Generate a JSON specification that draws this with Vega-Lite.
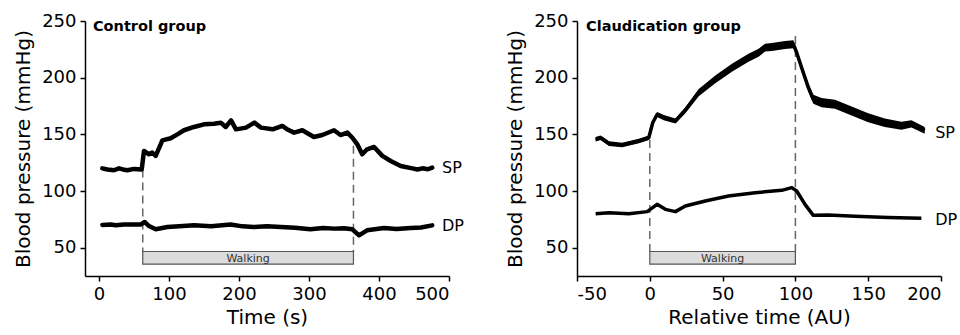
{
  "$schema": "https://vega.github.io/schema/vega-lite/v6.json",
  "padding": {"left": 13, "top": 12, "right": 3, "bottom": 5},
  "spacing": 41,
  "config": {
    "view": {"stroke": null},
    "font": "DejaVu Sans",
    "axis": {"grid": false, "domainColor": "black", "tickColor": "black", "domainWidth": 1.5, "tickWidth": 1.5, "tickSize": 5, "labelFontSize": 18, "titleFontSize": 20, "labelColor": "black", "titleColor": "black", "titleFontWeight": "normal", "labelPadding": 4, "labelExpr": "'' + datum.value"}
  },
  "datasets": {
    "control": [
      {"s":"SP","t":4.8,"v":120},{"s":"SP","t":12,"v":119},{"s":"SP","t":21.4,"v":118.3},{"s":"SP","t":28.6,"v":120},{"s":"SP","t":34,"v":119},{"s":"SP","t":40.5,"v":118.3},{"s":"SP","t":50,"v":119.5},{"s":"SP","t":61,"v":119},
      {"s":"SP","t":64.3,"v":135.3},{"s":"SP","t":71.4,"v":132.4},{"s":"SP","t":76,"v":134},{"s":"SP","t":81,"v":130.9},{"s":"SP","t":90.5,"v":144.7},{"s":"SP","t":102.4,"v":146.5},{"s":"SP","t":112,"v":150},{"s":"SP","t":121.4,"v":153.6},{"s":"SP","t":135.7,"v":156.5},{"s":"SP","t":150,"v":158.8},{"s":"SP","t":164.3,"v":159.4},{"s":"SP","t":174,"v":160.3},{"s":"SP","t":181,"v":156.5},{"s":"SP","t":188.6,"v":162.3},{"s":"SP","t":195.7,"v":154.4},{"s":"SP","t":210,"v":155.9},{"s":"SP","t":221.9,"v":160.3},{"s":"SP","t":231.4,"v":155.9},{"s":"SP","t":248,"v":154.4},{"s":"SP","t":261.9,"v":157.4},{"s":"SP","t":270,"v":154},{"s":"SP","t":278.6,"v":151.5},{"s":"SP","t":290.5,"v":153.6},{"s":"SP","t":307,"v":147.6},{"s":"SP","t":319,"v":149.4},{"s":"SP","t":335.7,"v":153.6},{"s":"SP","t":345,"v":149.4},{"s":"SP","t":354.8,"v":151.5},{"s":"SP","t":362,"v":147},{"s":"SP","t":369,"v":141.2},{"s":"SP","t":376,"v":132.4},{"s":"SP","t":383,"v":136.8},{"s":"SP","t":393,"v":138.9},{"s":"SP","t":404.8,"v":131},{"s":"SP","t":416.7,"v":126.5},{"s":"SP","t":431,"v":122.1},{"s":"SP","t":447.6,"v":120},{"s":"SP","t":455,"v":119},{"s":"SP","t":462,"v":120},{"s":"SP","t":470,"v":119.2},{"s":"SP","t":476,"v":120.6},
      {"s":"DP","t":4.8,"v":70},{"s":"DP","t":16.7,"v":70.4},{"s":"DP","t":23.8,"v":69.7},{"s":"DP","t":35.7,"v":70.4},{"s":"DP","t":59.5,"v":70.4},{"s":"DP","t":65.2,"v":72.7},{"s":"DP","t":71.4,"v":69.1},{"s":"DP","t":81,"v":66.2},{"s":"DP","t":97.6,"v":68.2},{"s":"DP","t":120,"v":69.2},{"s":"DP","t":135.7,"v":69.7},{"s":"DP","t":160,"v":69},{"s":"DP","t":188,"v":70.4},{"s":"DP","t":205,"v":68.8},{"s":"DP","t":221,"v":68.2},{"s":"DP","t":240,"v":69},{"s":"DP","t":260,"v":68.2},{"s":"DP","t":280,"v":67.6},{"s":"DP","t":302,"v":66.2},{"s":"DP","t":320,"v":67.4},{"s":"DP","t":336,"v":66.8},{"s":"DP","t":350,"v":67.2},{"s":"DP","t":362,"v":66.2},{"s":"DP","t":371.4,"v":60.9},{"s":"DP","t":383,"v":65.3},{"s":"DP","t":407,"v":67.3},{"s":"DP","t":425,"v":66.4},{"s":"DP","t":445,"v":67.3},{"s":"DP","t":460,"v":67.8},{"s":"DP","t":476,"v":69.7}
    ],
    "controlMarks": [
      {"t":62.5,"top":119,"bottom":46.4},{"t":363.5,"top":140,"bottom":46.4}
    ],
    "controlBar": [{"t0":62.5,"t1":363.5,"mid":213,"lo":35.4,"hi":46.6,"text":"Walking"}],
    "controlLabels": [{"t":490,"v":120,"label":"SP"},{"t":490,"v":69,"label":"DP"},{"t":-8.6,"v":244.5,"label":"Control group"}],
    "claudSP": [
      {"t":-37.2,"lo":143.6,"hi":147.6},{"t":-33.8,"lo":145,"hi":149},{"t":-28,"lo":139.8,"hi":143.8},{"t":-19,"lo":138.6,"hi":142.6},{"t":-7.5,"lo":142.1,"hi":146.1},{"t":-0.7,"lo":145,"hi":149},{"t":2,"lo":158,"hi":162.5},{"t":5,"lo":165.3,"hi":169.8},{"t":9.6,"lo":162.4,"hi":167},{"t":17.6,"lo":159.5,"hi":164},{"t":24.4,"lo":168.5,"hi":174},{"t":33.6,"lo":183.5,"hi":190},{"t":45,"lo":195,"hi":202},{"t":56.4,"lo":205.3,"hi":212.3},{"t":67.8,"lo":214,"hi":221},{"t":74.7,"lo":218.5,"hi":225.5},{"t":79.2,"lo":223,"hi":230},{"t":83.8,"lo":223.5,"hi":230.5},{"t":92.9,"lo":225.3,"hi":232.3},{"t":98.6,"lo":226,"hi":233},{"t":100.9,"lo":218.5,"hi":225.5},{"t":104.3,"lo":205.3,"hi":212.3},{"t":108.9,"lo":187.5,"hi":195},{"t":112.3,"lo":177,"hi":185},{"t":118,"lo":174,"hi":182},{"t":127.2,"lo":172.5,"hi":180.5},{"t":138.6,"lo":166.6,"hi":174.6},{"t":150,"lo":160.7,"hi":168.7},{"t":161.4,"lo":156.5,"hi":164},{"t":172.8,"lo":154,"hi":161},{"t":179.7,"lo":156,"hi":162.5},{"t":188.8,"lo":150.5,"hi":156.5}
    ],
    "claudDP": [
      {"t":-37.2,"v":80},{"t":-28,"v":80.9},{"t":-14.4,"v":80},{"t":-1.8,"v":81.8},{"t":5,"v":88.2},{"t":10.7,"v":83.8},{"t":17.6,"v":81.8},{"t":24.4,"v":86.8},{"t":38.1,"v":91.2},{"t":54,"v":95.6},{"t":72.4,"v":98.5},{"t":90.6,"v":100.6},{"t":97.5,"v":103},{"t":100.9,"v":100},{"t":106.6,"v":88.2},{"t":112.3,"v":78.5},{"t":122.6,"v":78.8},{"t":140.9,"v":77.8},{"t":163.7,"v":76.6},{"t":186.5,"v":76}
    ],
    "claudMarks": [
      {"t":0,"top":145,"bottom":46.4},{"t":100,"top":236.8,"bottom":46.4}
    ],
    "claudBar": [{"t0":0,"t1":100,"mid":50,"lo":35.4,"hi":46.6,"text":"Walking"}],
    "claudLabels": [{"t":196,"v":151,"label":"SP"},{"t":196,"v":74.5,"label":"DP"},{"t":-43.8,"v":244.5,"label":"Claudication group"}]
  },
  "hconcat": [
    {
      "width": 364,
      "height": 255,
      "layer": [
        {
          "data": {"name": "controlMarks"},
          "mark": {"type": "rule", "color": "#666666", "strokeWidth": 1.5, "strokeDash": [8, 5]},
          "encoding": {
            "x": {"field": "t", "type": "quantitative", "scale": {"domain": [-20, 500], "nice": false, "zero": false}, "axis": {"values": [0, 100, 200, 300, 400, 500], "title": "Time (s)", "titlePadding": 4}},
            "y": {"field": "top", "type": "quantitative", "scale": {"domain": [25, 250], "nice": false, "zero": false}, "axis": {"values": [50, 100, 150, 200, 250], "title": "Blood pressure (mmHg)", "titlePadding": 8}},
            "y2": {"field": "bottom"}
          }
        },
        {
          "data": {"name": "controlBar"},
          "mark": {"type": "rect", "fill": "#dcdcdc", "stroke": "#555555", "strokeWidth": 1.2},
          "encoding": {
            "x": {"field": "t0", "type": "quantitative"},
            "x2": {"field": "t1"},
            "y": {"field": "lo", "type": "quantitative"},
            "y2": {"field": "hi"}
          }
        },
        {
          "data": {"name": "controlBar"},
          "transform": [{"calculate": "(datum.lo + datum.hi) / 2", "as": "c"}],
          "mark": {"type": "text", "fontSize": 11, "color": "#333333", "baseline": "middle", "align": "center", "dy": 1},
          "encoding": {
            "x": {"field": "mid", "type": "quantitative"},
            "y": {"field": "c", "type": "quantitative"},
            "text": {"field": "text"}
          }
        },
        {
          "data": {"name": "control"},
          "mark": {"type": "line", "color": "black", "strokeWidth": 4.5, "strokeJoin": "round", "strokeCap": "round"},
          "encoding": {
            "x": {"field": "t", "type": "quantitative"},
            "y": {"field": "v", "type": "quantitative"},
            "detail": {"field": "s"}
          }
        },
        {
          "data": {"name": "controlLabels"},
          "transform": [{"filter": "datum.label != 'Control group'"}],
          "mark": {"type": "text", "fontSize": 16, "color": "black", "align": "left", "baseline": "middle"},
          "encoding": {
            "x": {"field": "t", "type": "quantitative"},
            "y": {"field": "v", "type": "quantitative"},
            "text": {"field": "label"}
          }
        },
        {
          "data": {"name": "controlLabels"},
          "transform": [{"filter": "datum.label == 'Control group'"}],
          "mark": {"type": "text", "fontSize": 14.5, "fontWeight": "bold", "color": "black", "align": "left", "baseline": "middle"},
          "encoding": {
            "x": {"field": "t", "type": "quantitative"},
            "y": {"field": "v", "type": "quantitative"},
            "text": {"field": "label"}
          }
        }
      ]
    },
    {
      "width": 364,
      "height": 255,
      "layer": [
        {
          "data": {"name": "claudMarks"},
          "mark": {"type": "rule", "color": "#666666", "strokeWidth": 1.5, "strokeDash": [8, 5]},
          "encoding": {
            "x": {"field": "t", "type": "quantitative", "scale": {"domain": [-50, 200], "nice": false, "zero": false}, "axis": {"values": [-50, 0, 50, 100, 150, 200], "title": "Relative time (AU)", "titlePadding": 4}},
            "y": {"field": "top", "type": "quantitative", "scale": {"domain": [25, 250], "nice": false, "zero": false}, "axis": {"values": [50, 100, 150, 200, 250], "title": "Blood pressure (mmHg)", "titlePadding": 8}},
            "y2": {"field": "bottom"}
          }
        },
        {
          "data": {"name": "claudBar"},
          "mark": {"type": "rect", "fill": "#dcdcdc", "stroke": "#555555", "strokeWidth": 1.2},
          "encoding": {
            "x": {"field": "t0", "type": "quantitative"},
            "x2": {"field": "t1"},
            "y": {"field": "lo", "type": "quantitative"},
            "y2": {"field": "hi"}
          }
        },
        {
          "data": {"name": "claudBar"},
          "transform": [{"calculate": "(datum.lo + datum.hi) / 2", "as": "c"}],
          "mark": {"type": "text", "fontSize": 11, "color": "#333333", "baseline": "middle", "align": "center", "dy": 1},
          "encoding": {
            "x": {"field": "mid", "type": "quantitative"},
            "y": {"field": "c", "type": "quantitative"},
            "text": {"field": "text"}
          }
        },
        {
          "data": {"name": "claudSP"},
          "mark": {"type": "area", "color": "black", "opacity": 1},
          "encoding": {
            "x": {"field": "t", "type": "quantitative"},
            "y": {"field": "lo", "type": "quantitative"},
            "y2": {"field": "hi"}
          }
        },
        {
          "data": {"name": "claudSP"},
          "transform": [{"calculate": "(datum.lo + datum.hi) / 2", "as": "v"}],
          "mark": {"type": "line", "color": "black", "strokeWidth": 3.5, "strokeJoin": "round"},
          "encoding": {
            "x": {"field": "t", "type": "quantitative"},
            "y": {"field": "v", "type": "quantitative"}
          }
        },
        {
          "data": {"name": "claudDP"},
          "mark": {"type": "line", "color": "black", "strokeWidth": 3.5, "strokeJoin": "round"},
          "encoding": {
            "x": {"field": "t", "type": "quantitative"},
            "y": {"field": "v", "type": "quantitative"}
          }
        },
        {
          "data": {"name": "claudLabels"},
          "transform": [{"filter": "datum.label != 'Claudication group'"}],
          "mark": {"type": "text", "fontSize": 16, "color": "black", "align": "left", "baseline": "middle"},
          "encoding": {
            "x": {"field": "t", "type": "quantitative"},
            "y": {"field": "v", "type": "quantitative"},
            "text": {"field": "label"}
          }
        },
        {
          "data": {"name": "claudLabels"},
          "transform": [{"filter": "datum.label == 'Claudication group'"}],
          "mark": {"type": "text", "fontSize": 14.5, "fontWeight": "bold", "color": "black", "align": "left", "baseline": "middle"},
          "encoding": {
            "x": {"field": "t", "type": "quantitative"},
            "y": {"field": "v", "type": "quantitative"},
            "text": {"field": "label"}
          }
        }
      ]
    }
  ]
}
